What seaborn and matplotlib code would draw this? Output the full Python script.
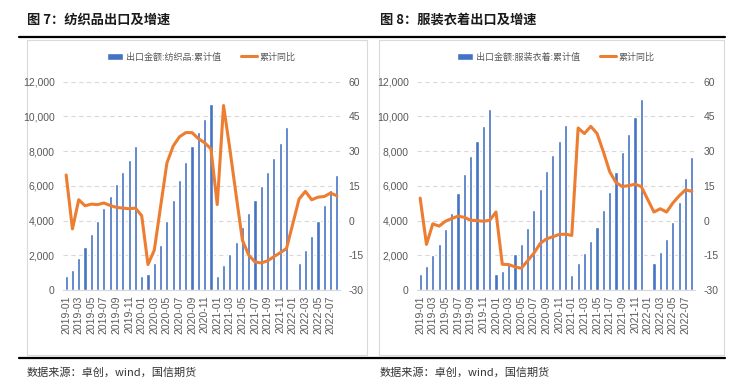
import numpy as np
import pandas as pd
import matplotlib
matplotlib.use("Agg")
import matplotlib.pyplot as plt
from matplotlib.lines import Line2D
from matplotlib.patches import Rectangle
from matplotlib.ticker import FuncFormatter
import seaborn as sns

sns.set_style("white")
plt.rcParams['font.family'] = ['Liberation Sans Narrow', 'Liberation Sans', 'Noto Sans CJK SC', 'DejaVu Sans']
plt.rcParams['axes.unicode_minus'] = False

months = pd.period_range('2019-01', '2022-08', freq='M').strftime('%Y-%m').tolist()

# 纺织品：出口金额累计值 与 累计同比(%)
textile_value = [800, 1150, 1850, 2500, 3250, 4000, 4700, 5400, 6100, 6800, 7500, 8300,
                 800, 950, 1550, 2600, 4000, 5200, 6350, 7400, 8300, 9100, 9830, 10700,
                 820, 1440, 2050, 2790, 3650, 4420, 5190, 5990, 6780, 7590, 8490, 9370,
                 np.nan, 1540, 2300, 3110, 3980, 4900, 5760, 6620]
textile_yoy = [19.7, -3.6, 9.0, 6.4, 7.1, 6.9, 7.6, 6.5, 5.7, 5.4, 5.1, 5.4,
               2.1, -19.0, -12.8, 6.0, 24.8, 32.2, 36.2, 38.0, 38.0, 35.4, 33.6, 31.0,
               6.9, 49.7, 31.0, 11.0, -8.5, -14.9, -17.9, -18.3, -17.4, -15.6, -13.9, -12.1,
               np.nan, 9.3, 12.6, 9.0, 10.1, 10.4, 11.9, 10.7]

# 服装衣着：出口金额累计值 与 累计同比(%)
apparel_value = [900, 1400, 2000, 2650, 3500, 4450, 5600, 6700, 7700, 8600, 9450, 10400,
                 950, 1100, 1500, 2050, 2650, 3600, 4600, 5800, 6850, 7800, 8600, 9500,
                 850, 1550, 2150, 2840, 3650, 4610, 5660, 6810, 7930, 8990, 9980, 11000,
                 np.nan, 1580, 2210, 2940, 3940, 5090, 6430, 7680]
apparel_yoy = [9.7, -10.3, -1.4, -2.4, -0.3, 0.9, 1.9, 1.4, 0.1, 0.0, -0.3, 0.1,
               3.7, -18.9, -19.0, -20.0, -20.6, -17.4, -14.1, -9.9, -7.9, -7.0, -6.0, -5.9,
               -6.4, 40.0, 37.6, 40.7, 37.6, 29.7, 21.1, 16.4, 14.7, 15.1, 15.7, 14.7,
               np.nan, 3.7, 5.1, 3.7, 7.6, 10.7, 13.3, 12.6]

panels = [
    ("图 7：纺织品出口及增速", "出口金额:纺织品:累计值", textile_value, textile_yoy),
    ("图 8：服装衣着出口及增速", "出口金额:服装衣着:累计值", apparel_value, apparel_yoy),
]

W, H = 750, 392
fig = plt.figure(figsize=(W / 100, H / 100), dpi=100)

blue = '#4472C4'
orange = '#ED7D31'
gray = '#595959'


def fx(px):
    return px / W


def fy(py):
    return 1 - py / H


# 面板位置(像素): 绘图区左右, 外框左右, 标题x
layout = [
    dict(ax_l=63, ax_r=340, box_l=27, box_r=367, title_x=27),
    dict(ax_l=417, ax_r=695, box_l=379, box_r=724, title_x=380),
]
ax_top, ax_bot = 81.7, 290

for (title, bar_label, values, yoy), lay in zip(panels, layout):
    # 外框
    fig.add_artist(Rectangle((fx(lay['box_l']), fy(355)), fx(lay['box_r'] - lay['box_l']),
                             (355 - 40) / H, transform=fig.transFigure,
                             facecolor='white', edgecolor='#D9D9D9', lw=0.8, zorder=0))
    fig.text(fx(lay['title_x']), fy(20), title, fontsize=9.5, fontweight='bold',
             family=['Noto Sans CJK SC', 'DejaVu Sans'], va='center', ha='left', color='#1a1a1a')
    fig.text(fx(lay['title_x']), fy(372), "数据来源：卓创，wind，国信期货", fontsize=8,
             family=['Noto Sans CJK SC', 'DejaVu Sans'], va='center', ha='left', color='#333333')

    ax = fig.add_axes([fx(lay['ax_l']), fy(ax_bot), fx(lay['ax_r'] - lay['ax_l']), (ax_bot - ax_top) / H])
    ax.patch.set_alpha(0)
    df = pd.DataFrame({'idx': np.arange(len(months)), 'value': values, 'yoy': yoy})

    sns.barplot(data=df, x='idx', y='value', native_scale=True, width=0.5, color=blue,
                saturation=1, errorbar=None, ax=ax, label=bar_label)
    ax.set_ylim(0, 12000)
    ax.set_yticks(range(0, 12001, 2000))
    ax.yaxis.set_major_formatter(FuncFormatter(lambda v, p: f"{int(v):,}"))
    ax.set_xlim(-0.5, len(months) - 0.5)
    ax.set_xticks(range(0, len(months), 2))
    ax.set_xticklabels(months[::2], rotation=90)
    ax.tick_params(axis='both', length=0, labelsize=7.5, colors=gray)
    ax.tick_params(axis='x', pad=4)
    ax.tick_params(axis='y', pad=6)
    ax.yaxis.grid(True, linestyle=(0, (4, 3)), color='#D9D9D9', lw=0.8)
    ax.set_axisbelow(True)
    ax.set_xlabel('')
    ax.set_ylabel('')
    for s in ['top', 'left', 'right']:
        ax.spines[s].set_visible(False)
    ax.spines['bottom'].set_color('#D9D9D9')

    ax2 = ax.twinx()
    line_df = df.dropna(subset=['yoy'])
    sns.lineplot(data=line_df, x='idx', y='yoy', color=orange, linewidth=2.2, ax=ax2, label='累计同比')
    ax2.set_ylim(-30, 60)
    ax2.set_yticks(range(-30, 61, 15))
    ax2.tick_params(axis='y', length=0, labelsize=7.5, colors=gray, pad=6)
    ax2.set_ylabel('')
    for s in ax2.spines.values():
        s.set_visible(False)

    h1, l1 = ax.get_legend_handles_labels()
    h2, l2 = ax2.get_legend_handles_labels()
    if ax.get_legend():
        ax.get_legend().remove()
    if ax2.get_legend():
        ax2.get_legend().remove()
    ax2.legend(h1 + h2, l1 + l2, loc='center', ncol=2, frameon=False,
               bbox_to_anchor=(0.5, (fy(57) - fy(ax_bot)) / ((ax_bot - ax_top) / H)),
               prop={'family': ['Noto Sans CJK SC', 'DejaVu Sans'], 'size': 6.5},
               handlelength=1.8, columnspacing=2.2, handletextpad=0.3, labelcolor=gray)

# 上下粗横线
fig.add_artist(Line2D([fx(19), fx(725)], [fy(37), fy(37)], transform=fig.transFigure, color='black', lw=1.6))
fig.add_artist(Line2D([fx(19), fx(725)], [fy(358), fy(358)], transform=fig.transFigure, color='black', lw=1.6))

fig.savefig('out.png', dpi=100)
